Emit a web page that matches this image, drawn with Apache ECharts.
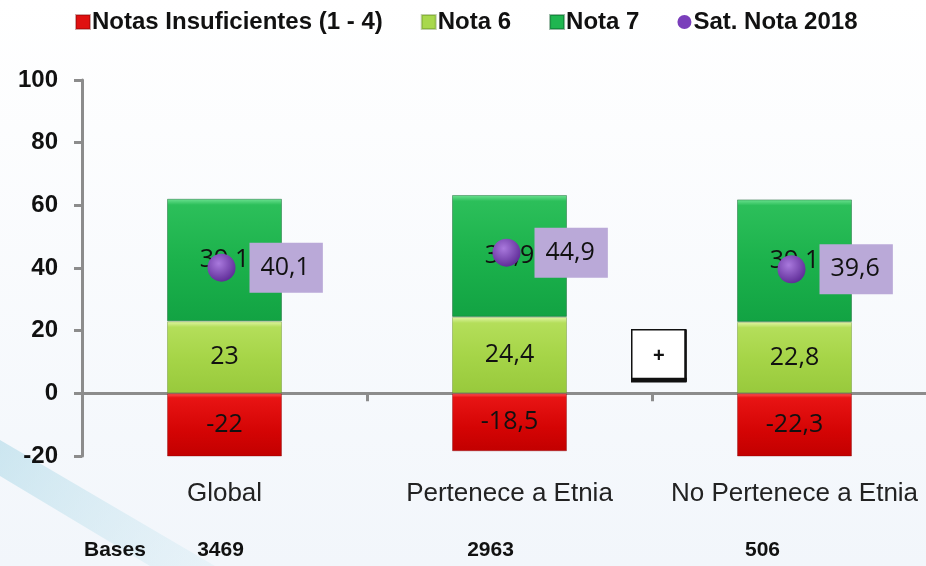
<!DOCTYPE html>
<html>
<head>
<meta charset="utf-8">
<script src="https://cdn.jsdelivr.net/npm/echarts@6/dist/echarts.min.js"></script>
<style>
  html, body { margin: 0; padding: 0; background: #ffffff; overflow: hidden; }
  #chart { width: 937px; height: 566px; }
</style>
</head>
<body>
<div id="chart"></div>
<script>
// Categories and values
const categories = ['Global', 'Pertenece a Etnia', 'No Pertenece a Etnia'];
const bases = ['3469', '2963', '506'];
const notasInsuficientes = [-22, -18.5, -22.3];
const nota6 = [23, 24.4, 22.8];
const nota7 = [39.1, 38.9, 39.1];
const satNota2018 = [40.1, 44.9, 39.6];
const yTicks = { min: -20, max: 100, interval: 20 };

const fmt = v => String(v).replace('.', ',');

function vGrad(stops) {
  return new echarts.graphic.LinearGradient(0, 0, 0, 1,
    stops.map(s => ({ offset: s[0], color: s[1] })));
}

const chart = echarts.init(document.getElementById('chart'), null, { renderer: 'canvas' });

const labelFont = { fontFamily: 'Open Sans', fontSize: 25, color: '#111' };
const boldFont = { fontFamily: 'Liberation Sans', fontWeight: 'bold', color: '#111' };

const option = {
  backgroundColor: new echarts.graphic.LinearGradient(0, 0, 0, 1, [
    { offset: 0, color: '#ffffff' },
    { offset: 1, color: '#f2f6fb' }
  ]),
  animation: false,
  graphic: [
    {
      type: 'polygon', z: -10, silent: true,
      shape: { points: [[0, 440], [0, 476], [150, 566], [215, 566]] },
      style: { fill: new echarts.graphic.LinearGradient(0, 0, 1, 1, [
        { offset: 0, color: 'rgba(170,215,230,0.55)' },
        { offset: 1, color: 'rgba(200,230,240,0.25)' }
      ]) }
    },
    {
      type: 'text', left: 84, top: 540,
      style: { text: 'Bases', fontSize: 21, fontWeight: 'bold', fontFamily: 'Liberation Sans', fill: '#111' }
    },
    {
      type: 'group', left: 631, top: 329,
      children: [
        { type: 'rect', shape: { x: 0, y: 0, width: 54, height: 52 },
          style: { fill: '#ffffff', stroke: '#111', lineWidth: 1.5 } },
        { type: 'rect', shape: { x: 0, y: 48, width: 55, height: 4 },
          style: { fill: '#111' } },
        { type: 'rect', shape: { x: 52.5, y: 0, width: 2.5, height: 52 },
          style: { fill: '#111' } },
        { type: 'text', x: 27, y: 27,
          style: { text: '+', fontSize: 20, fontWeight: 'bold', fontFamily: 'Liberation Sans', fill: '#111', align: 'center', verticalAlign: 'middle' } }
      ]
    }
  ],
  legend: {
    left: 70, top: 5,
    itemGap: 38, itemWidth: 14, itemHeight: 14,
    textStyle: Object.assign({ fontSize: 24, padding: [0, 0, 0, -3] }, boldFont),
    data: [
      { name: 'Notas Insuficientes (1 - 4)', icon: 'rect' },
      { name: 'Nota 6', icon: 'rect' },
      { name: 'Nota 7', icon: 'rect' },
      { name: 'Sat. Nota 2018', icon: 'circle' }
    ]
  },
  grid: { left: 82, top: 80, right: 0, height: 376, containLabel: false },
  xAxis: [
    {
      type: 'category', data: categories,
      axisLine: { onZero: true, lineStyle: { color: '#8c8c8c', width: 3 } },
      axisTick: { show: true, length: 8, lineStyle: { color: '#8c8c8c', width: 3 } },
      axisLabel: { show: false }
    },
    {
      type: 'category', data: categories, position: 'bottom',
      axisLine: { show: false, onZero: false }, axisTick: { show: false },
      axisLabel: { interval: 0, margin: 25, fontSize: 26, fontFamily: 'Liberation Sans', color: '#222' }
    },
    {
      type: 'category', data: bases, position: 'bottom',
      axisLine: { show: false, onZero: false }, axisTick: { show: false },
      axisLabel: Object.assign({
        interval: 0, margin: 84, fontSize: 21,
        formatter: (v, i) => '{b' + i + '|' + v + '}',
        rich: {
          b0: { padding: [0, 8, 0, 0] },
          b1: { padding: [0, 38, 0, 0] },
          b2: { padding: [0, 64, 0, 0] }
        }
      }, boldFont)
    }
  ],
  yAxis: {
    type: 'value', min: yTicks.min, max: yTicks.max, interval: yTicks.interval,
    axisLine: { show: true, lineStyle: { color: '#8c8c8c', width: 3 } },
    axisTick: { show: true, length: 8, lineStyle: { color: '#8c8c8c', width: 3 } },
    splitLine: { show: false },
    axisLabel: Object.assign({ margin: 24, fontSize: 24 }, boldFont)
  },
  series: [
    {
      name: 'Notas Insuficientes (1 - 4)', type: 'bar', stack: 'total', barWidth: 115,
      data: notasInsuficientes,
      itemStyle: {
        color: vGrad([[0, '#ff5a5a'], [0.07, '#e81414'], [0.6, '#d40404'], [1, '#c20000']]),
        borderColor: 'rgba(120,0,0,0.35)', borderWidth: 1
      },
      label: Object.assign({ show: true, position: 'inside', formatter: p => fmt(p.value) }, labelFont)
    },
    {
      name: 'Nota 6', type: 'bar', stack: 'total', barWidth: 115,
      data: nota6,
      itemStyle: {
        color: vGrad([[0, '#e2f6a8'], [0.08, '#b4de5a'], [0.5, '#a6d548'], [1, '#98c93c']]),
        borderColor: 'rgba(80,120,20,0.35)', borderWidth: 1
      },
      label: Object.assign({ show: true, position: 'inside', formatter: p => fmt(p.value) }, labelFont)
    },
    {
      name: 'Nota 7', type: 'bar', stack: 'total', barWidth: 115,
      data: nota7,
      itemStyle: {
        color: vGrad([[0, '#6ee292'], [0.05, '#2cbf5a'], [0.5, '#1cb24c'], [1, '#12a343']]),
        borderColor: 'rgba(0,80,30,0.4)', borderWidth: 1
      },
      label: Object.assign({ show: true, position: 'inside', formatter: p => fmt(p.value) }, labelFont)
    },
    {
      name: 'Sat. Nota 2018', type: 'scatter', z: 5,
      data: satNota2018, symbolSize: 28, symbolOffset: [-3, 0],
      itemStyle: {
        opacity: 1,
        color: new echarts.graphic.RadialGradient(0.4, 0.35, 0.7, [
          { offset: 0, color: '#a979dd' },
          { offset: 1, color: '#5b2994' }
        ])
      },
      label: Object.assign({
        show: true, position: 'right', distance: 14,
        backgroundColor: '#baa9d8', padding: [13, 13, 12, 11],
        formatter: p => fmt(p.value)
      }, labelFont)
    }
  ]
};

option.legend.data.forEach((d, i) => {
  const colors = ['#e01010', '#a8d84c', '#1fb650', '#7a3ebb'];
  d.itemStyle = { color: colors[i] };
});

chart.setOption(option);
</script>
</body>
</html>
